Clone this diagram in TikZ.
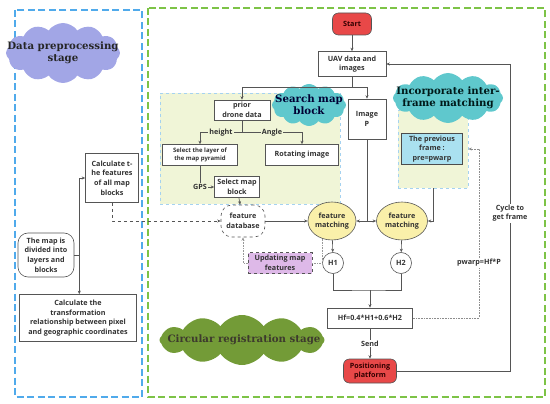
\documentclass[tikz,border=0pt]{standalone}
\usepackage{fontspec}
\setsansfont{Open Sans}
\newfontfamily\cloudfont{DejaVu Serif}
\usepackage{tikz}
\usetikzlibrary{arrows.meta,positioning,calc,shapes.symbols,shapes.geometric}
\definecolor{frameblue}{RGB}{80,170,235}
\definecolor{framegreen}{RGB}{125,195,70}
\definecolor{lineg}{RGB}{85,85,85}
\definecolor{txtg}{RGB}{50,50,50}
\definecolor{regfill}{RGB}{240,245,215}
\definecolor{regline}{RGB}{165,210,240}
\definecolor{lavcloud}{RGB}{162,166,230}
\definecolor{tealcloud}{RGB}{95,200,205}
\definecolor{greencloud}{RGB}{115,155,55}
\definecolor{startred}{RGB}{232,72,72}
\definecolor{fmyellow}{RGB}{250,240,170}
\definecolor{prevcyan}{RGB}{170,225,240}
\definecolor{updpurple}{RGB}{222,185,232}

\begin{document}
\begin{tikzpicture}[x=1pt, y=-1pt,
  every node/.style={font=\sffamily\bfseries\fontsize{7.2}{9.6}\selectfont, text=txtg},
  box/.style={draw=lineg, line width=0.6pt, fill=white, align=center, inner sep=1pt},
  termbox/.style={box, fill=startred, rounded corners=6pt},
  fmatch/.style={box, ellipse, fill=fmyellow, inner sep=0pt},
  hnode/.style={box, circle, minimum size=21pt, inner sep=0pt},
  region/.style={draw=regline, dashed, line width=0.8pt, fill=regfill, inner sep=0pt},
  stagecloud/.style={cloud, cloud puffs=12, cloud puff arc=110, cloud ignores aspect, inner sep=0pt},
  cloudtext/.style={align=center, inner sep=0pt, font=\cloudfont\bfseries\fontsize{10.2}{12}\selectfont},
  arr/.style={draw=lineg, line width=0.6pt, -{Stealth[length=3.5pt,width=3pt]}},
  ln/.style={draw=lineg, line width=0.6pt},
  lbl/.style={inner sep=1pt, fill=white}]
\useasboundingbox (0,0) rectangle (550,404);
% stage frames
\draw[frameblue, line width=1.3pt, dash pattern=on 7pt off 3.5pt] (15,10) rectangle (142,397);
\draw[framegreen, line width=1.3pt, dash pattern=on 7pt off 3.5pt] (148,8) rectangle (545,397);

% Data preprocessing stage
\node[stagecloud, fill=lavcloud, minimum width=114, minimum height=60] (dataCloud) at (63,53) {};
\node[cloudtext, text=black!85] at (dataCloud) {Data preprocessing\\stage};
\node[box, minimum width=53, minimum height=49] (calcFeat) at (112,178) {Calculate t-\\he features\\of all map\\blocks};
\node[box, rounded corners=10pt, minimum width=56, minimum height=44] (mapDiv) at (46,255) {The map is\\divided into\\layers and\\blocks};
\node[box, minimum width=117, minimum height=47] (calcTrans) at (78,318) {Calculate the\\transformation\\relationship between pixel\\and geographic coordinates};
\draw[ln] (mapDiv.east) -- ++(5,0) coordinate (mj);
\draw[arr] (mj) |- (calcFeat.west);
\draw[arr] (mj) -- (mj |- calcTrans.north);

% Search map block
\node[region, minimum width=180, minimum height=111] (searchReg) at (250,148.5) {};
\node[stagecloud, fill=tealcloud, minimum width=74, minimum height=42] (searchCloud) at (309,105) {};
\node[cloudtext, text=black!80!blue] at (searchCloud) {Search map\\block};
\node[box, minimum width=56, minimum height=20] (prior) at (242,110) {prior\\drone data};
\node[box, minimum width=75, minimum height=21, font=\sffamily\bfseries\fontsize{6}{8.5}\selectfont] (layer) at (200,155) {Select the layer of\\the map pyramid};
\node[box, minimum width=73, minimum height=21] (rotate) at (302,155) {Rotating image};
\node[box, minimum width=45, minimum height=21] (selBlock) at (237,187) {Select map\\block};
\draw[ln] (prior.south) -- ++(0,12) coordinate (pj);
\draw[arr] (pj) -| node[pos=0.25, lbl, fill=regfill] {height} (layer.north);
\draw[arr] (pj) -| node[pos=0.25, lbl, fill=regfill] {Angle} (rotate.north);
\draw[arr] (layer.south) |- node[pos=0.5, lbl, fill=regfill] {GPS} (selBlock.west);

% Circular registration stage
\node[termbox, minimum width=39, minimum height=22, text=black!80!red] (start) at (352,24) {Start};
\node[box, minimum width=68, minimum height=25] (uav) at (352,64) {UAV data and\\images};
\node[box, minimum width=38, minimum height=40] (imgP) at (367,119) {Image\\P};
\node[box, dashed, rounded corners=11pt, minimum width=44, minimum height=32] (fdb) at (243,221) {feature\\database};
\node[fmatch, minimum width=47, minimum height=38] (fm1) at (332,221) {feature\\matching};
\node[fmatch, minimum width=51, minimum height=38] (fm2) at (402,221) {feature\\matching};
\node[hnode] (h1) at (333,263) {H1};
\node[hnode] (h2) at (401,263) {H2};
\node[box, dashed, fill=updpurple, minimum width=64, minimum height=21] (upd) at (280,263) {Updating map\\features};
\node[box, minimum width=85, minimum height=20] (hf) at (370,318) {Hf=0.4*H1+0.6*H2};
\node[termbox, minimum width=53, minimum height=24, text=black!80!red] (pos) at (370,371) {Positioning\\platform};
\node[stagecloud, fill=greencloud, minimum width=165, minimum height=50] (circCloud) at (242,340) {};
\node[cloudtext, text=black!75!olive] at (244,340) {Circular registration stage};

% Incorporate inter-frame matching
\node[region, minimum width=70, minimum height=78] (interReg) at (433,149) {};
\node[stagecloud, fill=tealcloud, minimum width=110, minimum height=50] (interCloud) at (448,98) {};
\node[cloudtext, text=black!80!teal] at (interCloud) {Incorporate inter-\\frame matching};
\node[box, fill=prevcyan, draw=black!70, minimum width=61, minimum height=31] (prev) at (432,149) {The previous\\frame :\\pre=pwarp};

% connectors
\draw[arr] (start) -- (uav);
\draw[ln] (uav.south) -- ++(0,11) coordinate (uj);
\draw[arr] (uj) -| (prior.north);
\draw[arr] (uj) -| (imgP.north);
\draw[arr] (selBlock) -- (fdb);
\draw[arr] (fdb) -- (fm1);
\draw[arr, dashed] (calcFeat.south) |- (fdb.west);
\draw[ln] (imgP.south) -- (imgP.south |- fm1.east) coordinate (ij);
\draw[arr] (ij) -- (fm1.east);
\draw[arr] (ij) -- (fm2.west);
\draw[arr] (interReg.south) |- (fm2.east);
\draw[arr] (fm1) -- (h1);
\draw[arr] (fm2) -- (h2);
\coordinate (hj) at (370,290);
\draw[ln] (h1.south) |- (hj) -| (h2.south);
\draw[arr] (hj) -- (hf.north);
\draw[arr] (hf) -- node[lbl] {Send} (pos);
\draw[arr] (pos.east) -- (510,371) |- node[pos=0.257, lbl, align=center] {Cycle to\\get frame} (uav.east);
\draw[arr, densely dotted, draw=black!45] (hf.east) -- (479,318) |- node[pos=0.163, lbl] {pwarp=Hf*P} (interReg.east);
\draw[densely dotted, draw=black!40, line width=0.6pt] (fm1.240) |- (upd.east);
\draw[arr, densely dotted, draw=black!40] (upd.west) -| (fdb.south);
\end{tikzpicture}
\end{document}
